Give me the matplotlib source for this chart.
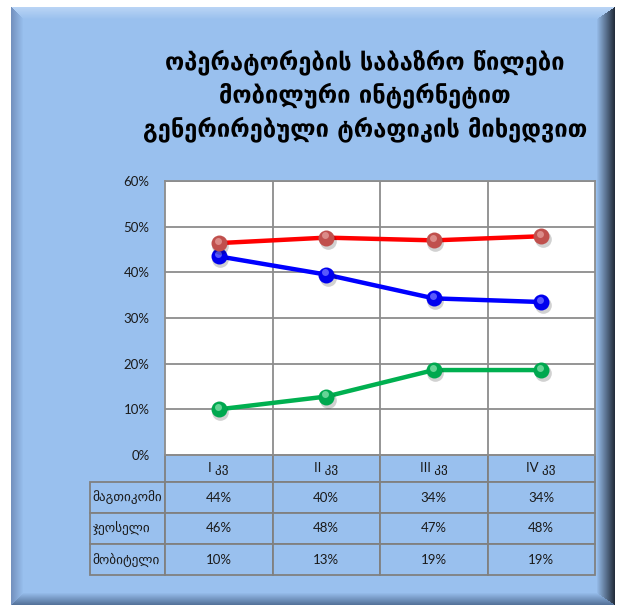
import numpy as np
import matplotlib
matplotlib.use("Agg")
import matplotlib.pyplot as plt
from matplotlib.transforms import offset_copy

# ---- data ----
categories = ["I კვ", "II კვ", "III კვ", "IV კვ"]
series_names = ["მაგთიკომი", "ჯეოსელი", "მობიტელი"]
magticom = [43.5, 39.5, 34.3, 33.5]
geocell = [46.4, 47.6, 47.0, 47.9]
mobitel = [10.0, 12.8, 18.6, 18.6]
yticks = [0, 10, 20, 30, 40, 50, 60]
title_lines = ["ოპერატორების საბაზრო წილები",
               "მობილური ინტერნეტით",
               "გენერირებული ტრაფიკის მიხედვით"]

W, H = 619, 608
BASE = np.array([153, 192, 238]) / 255.0
GRID = "#8c8c8c"
plt.rcParams['font.family'] = ['Lato', 'DejaVu Sans']

fig = plt.figure(figsize=(W / 100, H / 100), dpi=100)

# ---- beveled background frame ----
img = np.ones((H, W, 3))
x0, x1, y0, y1 = 11, 615, 7, 605
bw = {"l": 12, "r": 18, "t": 12, "b": 12}
outer = {"l": np.array([115, 145, 190]) / 255, "r": np.array([35, 45, 60]) / 255,
         "t": np.array([185, 212, 245]) / 255, "b": np.array([85, 115, 155]) / 255}
ys, xs = np.mgrid[0:H, 0:W]
inside = (xs >= x0) & (xs < x1) & (ys >= y0) & (ys < y1)
nl = (xs - x0) / bw["l"]
nr = (x1 - 1 - xs) / bw["r"]
nt = (ys - y0) / bw["t"]
nb = (y1 - 1 - ys) / bw["b"]
stack = np.stack([nl, nr, nt, nb])
idx = np.argmin(stack, axis=0)
mn = np.min(stack, axis=0)
keys = ["l", "r", "t", "b"]
col = np.tile(BASE, (H, W, 1))
for i, key in enumerate(keys):
    m = inside & (idx == i) & (mn < 1)
    t = np.clip(mn[m], 0, 1)[:, None]
    col[m] = outer[key] * (1 - t) + BASE * t
img[inside] = col[inside]
bg = fig.add_axes([0, 0, 1, 1], zorder=-10)
bg.imshow(img, extent=[0, W, H, 0], aspect='auto', interpolation='bilinear')
bg.set_xlim(0, W)
bg.set_ylim(H, 0)
bg.axis('off')

# ---- title ----
for line, yp in zip(title_lines, [62, 95, 129]):
    fig.text(365 / W, 1 - yp / H, line, ha='center', va='center',
             fontsize=17, fontweight='bold', family='DejaVu Sans', color='black')

# ---- plot area ----
L, R, T, B = 165, 595, 181, 455
PW, PH = R - L, B - T
ax = fig.add_axes([L / W, 1 - B / H, PW / W, PH / H])
ax.set_facecolor('white')
x = np.arange(len(categories))
ax.set_xlim(-0.5, len(categories) - 0.5)
ax.set_ylim(0, 60)
ax.set_yticks(yticks)
ax.set_yticklabels([f"{v}%" for v in yticks], fontsize=9.5, color='#1a1a1a')
ax.set_xticks(x)
ax.set_xticklabels([])
ax.set_xticks(np.arange(len(categories) - 1) + 0.5, minor=True)
ax.tick_params(axis='both', which='both', length=0, pad=11)
ax.grid(axis='y', which='major', color=GRID, lw=1.3)
ax.grid(axis='x', which='minor', color=GRID, lw=1.3)
ax.set_axisbelow(True)
for s in ax.spines.values():
    s.set_color(GRID)
    s.set_linewidth(1.3)

series = [magticom, geocell, mobitel]
line_colors = ["#0000ff", "#ff0000", "#00b050"]
mark_colors = ["#0000ee", "#c0504d", "#00a84f"]
hi_colors = ["#6f6fff", "#e39a98", "#7fe0a8"]

for vals, lc in zip(series, line_colors):
    ax.plot(x, vals, color=lc, lw=3.2, zorder=3, solid_capstyle='round')

shadow_tr = offset_copy(ax.transData, fig=fig, x=1.2, y=-2.2, units='points')
hi_tr = offset_copy(ax.transData, fig=fig, x=-0.8, y=1.8, units='points')
for n, (vals, mc, hc) in enumerate(zip(series, mark_colors, hi_colors)):
    z = 4 + n * 0.1
    ax.plot(x, vals, 'o', ms=12, color='black', alpha=0.18, mec='none',
            transform=shadow_tr, zorder=z)
    ax.plot(x, vals, 'o', ms=11.5, color=mc, mec='none', zorder=z + 0.01)
    ax.plot(x, vals, 'o', ms=5, color=hc, mec='none', alpha=0.8,
            transform=hi_tr, zorder=z + 0.02)

# ---- data table ----
cell_text = [[f"{v:.0f}%" for v in vals] for vals in series]
hdr_h, row_h, lab_w, col_w = 27, 31, 93, 107.5
tot_h = hdr_h + 3 * row_h
bbox = [0, -tot_h / PH, 1, tot_h / PH]
tab = ax.table(cellText=cell_text, rowLabels=series_names, colLabels=categories,
               cellLoc='center', rowLoc='left', colLoc='center', bbox=bbox)
tab.auto_set_font_size(False)
tab.set_fontsize(9.5)
for (r, c), cell in tab.get_celld().items():
    cell.set_facecolor(BASE)
    cell.set_edgecolor('#808080')
    cell.set_linewidth(1.3)
    cell.set_height((hdr_h if r == 0 else row_h) / PH)
    cell.set_width((lab_w if c == -1 else col_w) / PW)
    if c == -1:
        cell.PAD = 0.04
    cell.get_text().set_color('#1a1a1a')

fig.savefig("out.png", dpi=100)
